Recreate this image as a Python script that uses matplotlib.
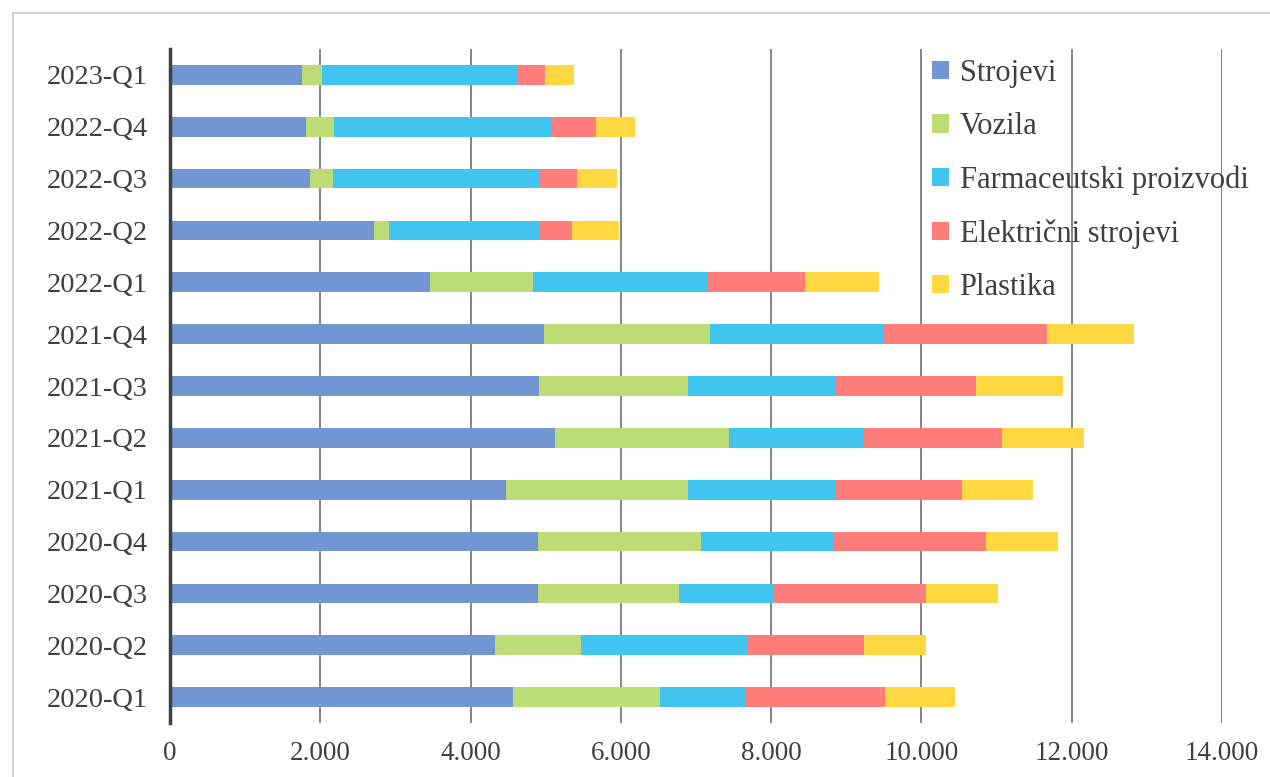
import matplotlib.pyplot as plt
from matplotlib.patches import Rectangle

# quarters, bottom to top
quarters = ['2020-Q1', '2020-Q2', '2020-Q3', '2020-Q4',
            '2021-Q1', '2021-Q2', '2021-Q3', '2021-Q4',
            '2022-Q1', '2022-Q2', '2022-Q3', '2022-Q4', '2023-Q1']

strojevi = [4560, 4320, 4900, 4900, 4475, 5120, 4915, 4975, 3460, 2715, 1860, 1810, 1760]
vozila = [1960, 1145, 1880, 2160, 2425, 2320, 1985, 2205, 1365, 200, 315, 370, 265]
farmaceutski = [1145, 2210, 1255, 1770, 1955, 1790, 1950, 2315, 2320, 1990, 2730, 2905, 2590]
elektricni = [1845, 1560, 2025, 2025, 1685, 1845, 1880, 2170, 1305, 450, 510, 585, 375]
plastika = [935, 830, 965, 960, 950, 1095, 1150, 1160, 985, 625, 535, 515, 380]

series = ['Strojevi', 'Vozila', 'Farmaceutski proizvodi', 'Električni strojevi', 'Plastika']
values = [strojevi, vozila, farmaceutski, elektricni, plastika]
colors = ['#7296D2', '#BEDC76', '#42C4F0', '#FF7D7B', '#FFD740']
xticks = [0, 2000, 4000, 6000, 8000, 10000, 12000, 14000]
xtick_labels = ['0', '2.000', '4.000', '6.000', '8.000', '10.000', '12.000', '14.000']

plt.rcParams['font.family'] = ['Liberation Serif', 'DejaVu Serif']

fig = plt.figure(figsize=(12.7, 7.77), dpi=100)
ax = fig.add_axes([170 / 1270, 1 - 723 / 777, 1052 / 1270, 674 / 777])

# light gray frame around the chart
fig.patches.append(Rectangle((13 / 1270, -0.05), 1.1, 1 - 13 / 777 + 0.05,
                             transform=fig.transFigure, fill=False,
                             edgecolor='#c8c8c8', linewidth=1.2))

y = list(range(len(quarters)))
left = [0] * len(quarters)
for name, vals, col in zip(series, values, colors):
    ax.barh(y, vals, left=left, height=0.38, color=col, label=name, zorder=2)
    left = [a + b for a, b in zip(left, vals)]

ax.set_xlim(0, 14000)
ax.set_ylim(-0.5, len(quarters) - 0.5)
ax.set_xticks(xticks)
ax.set_xticklabels(xtick_labels)
ax.set_yticks(y)
ax.set_yticklabels(quarters)
ax.tick_params(axis='both', length=0, colors='#404040')
ax.tick_params(axis='x', pad=13, labelsize=19.5)
ax.tick_params(axis='y', pad=16, labelsize=20.5)
ax.grid(axis='x', color='#858585', linewidth=1.4, zorder=1)
ax.set_axisbelow(True)
for s in ['top', 'right', 'bottom']:
    ax.spines[s].set_visible(False)
ax.spines['left'].set_color('#404040')
ax.spines['left'].set_linewidth(2.5)
ax.spines['left'].set_zorder(3)

ax.legend(loc='upper left', bbox_to_anchor=(932 / 1270, 1 - 59 / 777),
          bbox_transform=fig.transFigure, frameon=False, fontsize=22,
          handlelength=0.55, handleheight=0.55, handletextpad=0.35,
          labelspacing=0.79, labelcolor='#404040', borderpad=0,
          borderaxespad=0)

plt.savefig('out.png', dpi=100)
